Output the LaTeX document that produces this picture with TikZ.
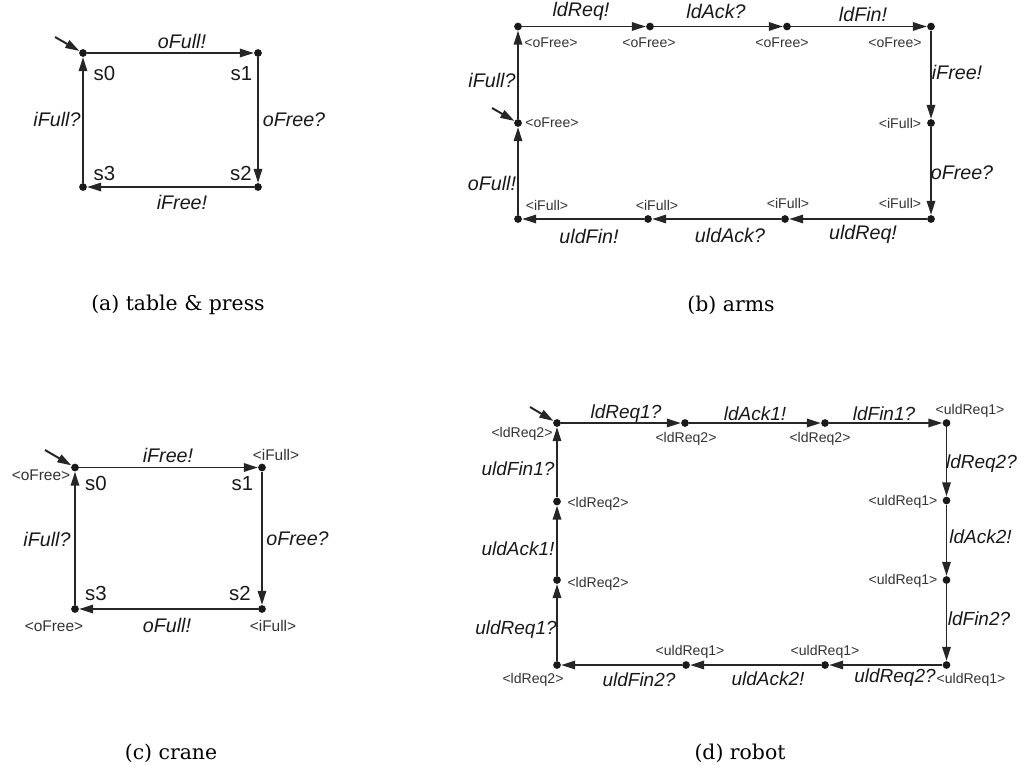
\documentclass[tikz,border=0pt]{standalone}
\usepackage{fontspec}
\usepackage{xcolor}
\usetikzlibrary{arrows.meta}
\newfontfamily\labfont{Liberation Sans}
\newfontfamily\capfont{DejaVu Serif}

\begin{document}
\begin{tikzpicture}[x=0.025cm, y=-0.025cm,
    st/.style={circle, fill=black!90, inner sep=0pt, minimum size=5.5pt},
    tr/.style={draw=black!85, line width=1.4pt, -{Triangle[length=10pt,width=6pt]}},
    act/.style={font=\labfont\itshape\fontsize{14}{16}\selectfont, text=black!90, inner sep=0pt},
    actd/.style={act, font=\labfont\itshape\fontsize{13.5}{15}\selectfont},
    loc/.style={font=\labfont\fontsize{14.5}{17}\selectfont, text=black!90, inner sep=0pt},
    inv/.style={font=\labfont\fontsize{10}{12}\selectfont, text=black!80, inner sep=0pt},
    invc/.style={inv, font=\labfont\fontsize{11}{13}\selectfont},
    captext/.style={font=\capfont\fontsize{14.5}{17}\selectfont, inner sep=0pt}]
    \useasboundingbox (0,0) rectangle (1024,764);

    % (a) table & press
    \node[st] (a0) at (83,53) {};
    \node[st] (a1) at (258,53) {};
    \node[st] (a2) at (258,187) {};
    \node[st] (a3) at (83,187) {};
    \coordinate (ai) at (55,37);
    \draw[tr] (ai) -- (a0);
    \foreach \u/\v in {a0/a1, a1/a2, a2/a3, a3/a0}
        \draw[tr] (\u) -- (\v);
    \node[act] (la01) at (182,41.5) {oFull!};
    \node[act] (la12) at (294,119.5) {oFree?};
    \node[act] (la23) at (182,202.5) {iFree!};
    \node[act] (la30) at (57,119.5) {iFull?};
    \node[loc] (sa0) at (104.5,73.5) {s0};
    \node[loc] (sa1) at (241.5,73.5) {s1};
    \node[loc] (sa2) at (241,173.5) {s2};
    \node[loc] (sa3) at (104.5,173.5) {s3};
    \node[captext] (capa) at (178,305) {(a) table \& press};

    % (b) arms
    \node[st] (b0) at (518,26.5) {};
    \node[st] (b1) at (650,26.5) {};
    \node[st] (b2) at (787,26.5) {};
    \node[st] (b3) at (931,26.5) {};
    \node[st] (b4) at (931,123) {};
    \node[st] (b5) at (931,219) {};
    \node[st] (b6) at (785,219) {};
    \node[st] (b7) at (648,219) {};
    \node[st] (b8) at (518,219) {};
    \node[st] (b9) at (518,123) {};
    \coordinate (bi) at (492,108);
    \draw[tr] (bi) -- (b9);
    \foreach \u/\v in {b9/b0, b0/b1, b1/b2, b2/b3, b3/b4, b4/b5, b5/b6, b6/b7, b7/b8, b8/b9}
        \draw[tr] (\u) -- (\v);
    \node[act] (lb90) at (492,80) {iFull?};
    \node[act] (lb01) at (581,11) {ldReq!};
    \node[act] (lb12) at (716,11) {ldAck?};
    \node[act] (lb23) at (863,14) {ldFin!};
    \node[act] (lb34) at (957,72) {iFree!};
    \node[act] (lb45) at (962,173) {oFree?};
    \node[act] (lb56) at (863,234.5) {uldReq!};
    \node[act] (lb67) at (730,235) {uldAck?};
    \node[act] (lb78) at (589,236) {uldFin!};
    \node[act] (lb89) at (492,183) {oFull!};
    \node[inv] (ib0) at (551,43) {<oFree>};
    \node[inv] (ib1) at (649,43) {<oFree>};
    \node[inv] (ib2) at (782,43) {<oFree>};
    \node[inv] (ib3) at (895,43) {<oFree>};
    \node[inv] (ib9) at (552,123) {<oFree>};
    \node[inv] (ib4) at (900,123) {<iFull>};
    \node[inv] (ib5) at (900,203) {<iFull>};
    \node[inv] (ib6) at (788,203) {<iFull>};
    \node[inv] (ib7) at (657,205) {<iFull>};
    \node[inv] (ib8) at (547,205) {<iFull>};
    \node[captext] (capb) at (731,305) {(b) arms};

    % (c) crane
    \node[st] (c0) at (75,467.5) {};
    \node[st] (c1) at (262,467.5) {};
    \node[st] (c2) at (262,609) {};
    \node[st] (c3) at (75,609) {};
    \coordinate (ci) at (45,450);
    \draw[tr] (ci) -- (c0);
    \foreach \u/\v in {c0/c1, c1/c2, c2/c3, c3/c0}
        \draw[tr] (\u) -- (\v);
    \node[act] (lc01) at (168,455.5) {iFree!};
    \node[act] (lc12) at (297.5,539) {oFree?};
    \node[act] (lc23) at (167,625.5) {oFull!};
    \node[act] (lc30) at (47,539.5) {iFull?};
    \node[loc] (sc0) at (96,483.5) {s0};
    \node[loc] (sc1) at (242.5,483.5) {s1};
    \node[loc] (sc2) at (240,593.5) {s2};
    \node[loc] (sc3) at (96,593.5) {s3};
    \node[invc] (ic0) at (41,475) {<oFree>};
    \node[invc] (ic1) at (276,455) {<iFull>};
    \node[invc] (ic2) at (273,626) {<iFull>};
    \node[invc] (ic3) at (54,626) {<oFree>};
    \node[captext] (capc) at (171,753) {(c) crane};

    % (d) robot
    \node[st] (d0) at (557,423) {};
    \node[st] (d1) at (685,423) {};
    \node[st] (d2) at (825,423) {};
    \node[st] (d3) at (946.5,423) {};
    \node[st] (d4) at (946.5,500.5) {};
    \node[st] (d5) at (946.5,580) {};
    \node[st] (d6) at (946.5,665) {};
    \node[st] (d7) at (825,665) {};
    \node[st] (d8) at (686,665) {};
    \node[st] (d9) at (557,665) {};
    \node[st] (d10) at (557,580) {};
    \node[st] (d11) at (557,501.5) {};
    \coordinate (di) at (530,407);
    \draw[tr] (di) -- (d0);
    \foreach \u/\v in {d0/d1, d1/d2, d2/d3, d3/d4, d4/d5, d5/d6, d6/d7, d7/d8, d8/d9, d9/d10, d10/d11, d11/d0}
        \draw[tr] (\u) -- (\v);
    \node[actd] (ld01) at (626,413.5) {ldReq1?};
    \node[actd] (ld12) at (755,413.5) {ldAck1!};
    \node[actd] (ld23) at (884,413.5) {ldFin1?};
    \node[actd] (ld34) at (981.5,463.5) {ldReq2?};
    \node[actd] (ld45) at (980.5,536.5) {ldAck2!};
    \node[actd] (ld56) at (979,618.5) {ldFin2?};
    \node[actd] (ld67) at (895,677.5) {uldReq2?};
    \node[actd] (ld78) at (768,679) {uldAck2!};
    \node[actd] (ld89) at (639,679.5) {uldFin2?};
    \node[actd] (ld910) at (516,629.5) {uldReq1?};
    \node[actd] (ld1011) at (518,548.5) {uldAck1!};
    \node[actd] (ld110) at (518,468.5) {uldFin1?};
    \node[inv] (id0) at (522,433.5) {<ldReq2>};
    \node[inv] (id1) at (686,439) {<ldReq2>};
    \node[inv] (id2) at (820,439) {<ldReq2>};
    \node[inv] (id3) at (970,411) {<uldReq1>};
    \node[inv] (id4) at (903,502) {<uldReq1>};
    \node[inv] (id5) at (903,581) {<uldReq1>};
    \node[inv] (id6) at (971,680) {<uldReq1>};
    \node[inv] (id7) at (825,652) {<uldReq1>};
    \node[inv] (id8) at (690,652) {<uldReq1>};
    \node[inv] (id9) at (533,680) {<ldReq2>};
    \node[inv] (id10) at (598,583.5) {<ldReq2>};
    \node[inv] (id11) at (598,504) {<ldReq2>};
    \node[captext] (capd) at (740,753) {(d) robot};
\end{tikzpicture}
\end{document}
